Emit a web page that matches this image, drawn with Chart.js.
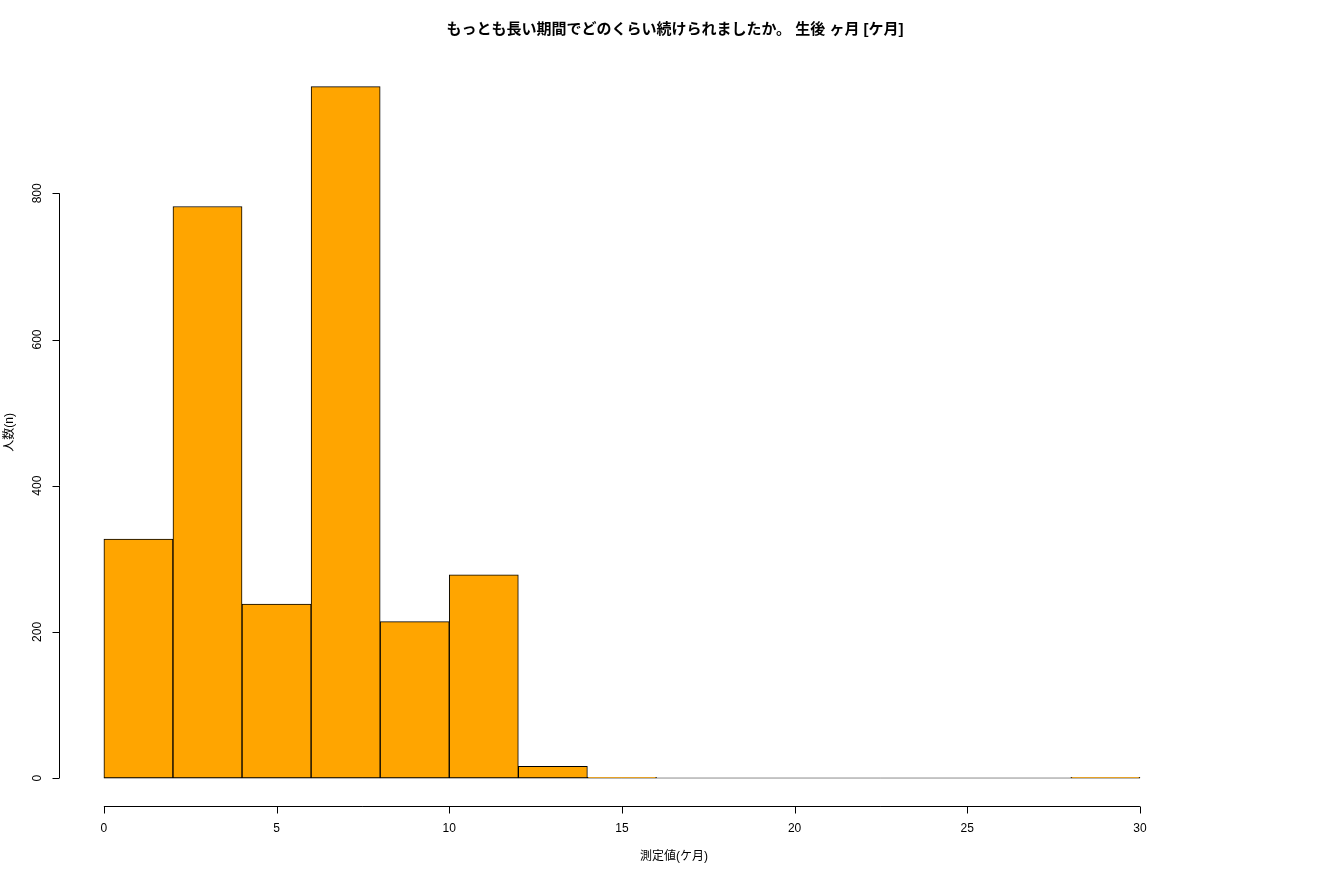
<!DOCTYPE html>
<html>
<head>
<meta charset="utf-8">
<script src="https://cdn.jsdelivr.net/npm/chart.js@4"></script>
<style>
  html, body { margin: 0; padding: 0; background: #fff; }
  #wrap { width: 1320px; height: 880px; position: relative; }
</style>
</head>
<body>
<div id="wrap"><canvas id="histChart"></canvas></div>
<script>
// histogram bins (months) and counts
const binStarts = [0, 2, 4, 6, 8, 10, 12, 14, 16, 18, 20, 22, 24, 26, 28];
const binWidth = 2;
const counts = [327, 782, 238, 946, 214, 278, 16, 1, 0, 0, 0, 0, 0, 0, 1];
const xTicks = [0, 5, 10, 15, 20, 25, 30];
const yTicks = [0, 200, 400, 600, 800];

const titleText = 'もっとも長い期間でどのくらい続けられましたか。 生後 ヶ月 [ケ月]';
const xTitle = '測定値(ケ月)';
const yTitle = '人数(n)';

const baseFont = '"Liberation Sans", "Noto Sans CJK JP", sans-serif';

// R-style axes drawn from the chart scales
const rAxes = {
    id: 'rAxes',
    afterDraw(chart) {
        const ctx = chart.ctx;
        const xs = chart.scales.x;
        const ys = chart.scales.y;
        const area = chart.chartArea;
        ctx.save();
        ctx.strokeStyle = '#000';
        ctx.fillStyle = '#000';
        ctx.lineWidth = 1;

        // x axis
        const xAxisY = Math.round(area.bottom) + 0.5;
        ctx.beginPath();
        ctx.moveTo(xs.getPixelForValue(xTicks[0]), xAxisY);
        ctx.lineTo(xs.getPixelForValue(xTicks[xTicks.length - 1]), xAxisY);
        xTicks.forEach(t => {
            const px = Math.round(xs.getPixelForValue(t)) + 0.5;
            ctx.moveTo(px, xAxisY);
            ctx.lineTo(px, xAxisY + 7);
        });
        ctx.stroke();
        ctx.font = '12px ' + baseFont;
        ctx.textAlign = 'center';
        ctx.textBaseline = 'middle';
        xTicks.forEach(t => {
            ctx.fillText(String(t), xs.getPixelForValue(t), xAxisY + 22);
        });

        // y axis
        const yAxisX = Math.round(area.left) + 0.5;
        ctx.beginPath();
        ctx.moveTo(yAxisX, ys.getPixelForValue(yTicks[0]));
        ctx.lineTo(yAxisX, ys.getPixelForValue(yTicks[yTicks.length - 1]));
        yTicks.forEach(t => {
            const py = Math.round(ys.getPixelForValue(t)) + 0.5;
            ctx.moveTo(yAxisX, py);
            ctx.lineTo(yAxisX - 7, py);
        });
        ctx.stroke();
        yTicks.forEach(t => {
            ctx.save();
            ctx.translate(yAxisX - 22, ys.getPixelForValue(t));
            ctx.rotate(-Math.PI / 2);
            ctx.fillText(String(t), 0, 0);
            ctx.restore();
        });

        // titles
        ctx.font = 'bold 15px ' + baseFont;
        ctx.fillText(titleText, 675, 30);
        ctx.font = '12px ' + baseFont;
        ctx.fillText(xTitle, 674, 857);
        ctx.save();
        ctx.translate(10, (area.top + area.bottom) / 2);
        ctx.rotate(-Math.PI / 2);
        ctx.fillText(yTitle, 0, 0);
        ctx.restore();
        ctx.restore();
    }
};

const ctx = document.getElementById('histChart').getContext('2d');
new Chart(ctx, {
    type: 'bar',
    data: {
        datasets: [
            {
                type: 'line',
                data: [{ x: binStarts[0], y: 0 }, { x: binStarts[binStarts.length - 1] + binWidth, y: 0 }],
                borderColor: '#8c8c8c',
                borderWidth: 1,
                pointRadius: 0,
                order: 2
            },
            {
                data: binStarts.map((s, i) => ({ x: s + binWidth / 2, y: counts[i] })),
                backgroundColor: '#FFA500',
                borderColor: '#000000',
                borderWidth: 1,
                borderSkipped: false,
                barPercentage: 1,
                categoryPercentage: 1,
                order: 1
            }
        ]
    },
    options: {
        responsive: true,
        maintainAspectRatio: false,
        animation: false,
        layout: {
            padding: { left: 59, right: 138.6, top: 59, bottom: 74.3 }
        },
        scales: {
            x: {
                type: 'linear', min: -1.3, max: 31.2, offset: false, display: false,
                // keep the bar ruler on the bin edges
                afterBuildTicks: scale => {
                    scale.ticks = binStarts.map(v => ({ value: v }));
                }
            },
            y: { min: -37.84, max: 983.84, display: false }
        },
        plugins: {
            legend: { display: false },
            tooltip: { enabled: false },
            title: { display: false }
        }
    },
    plugins: [rAxes]
});
</script>
</body>
</html>
